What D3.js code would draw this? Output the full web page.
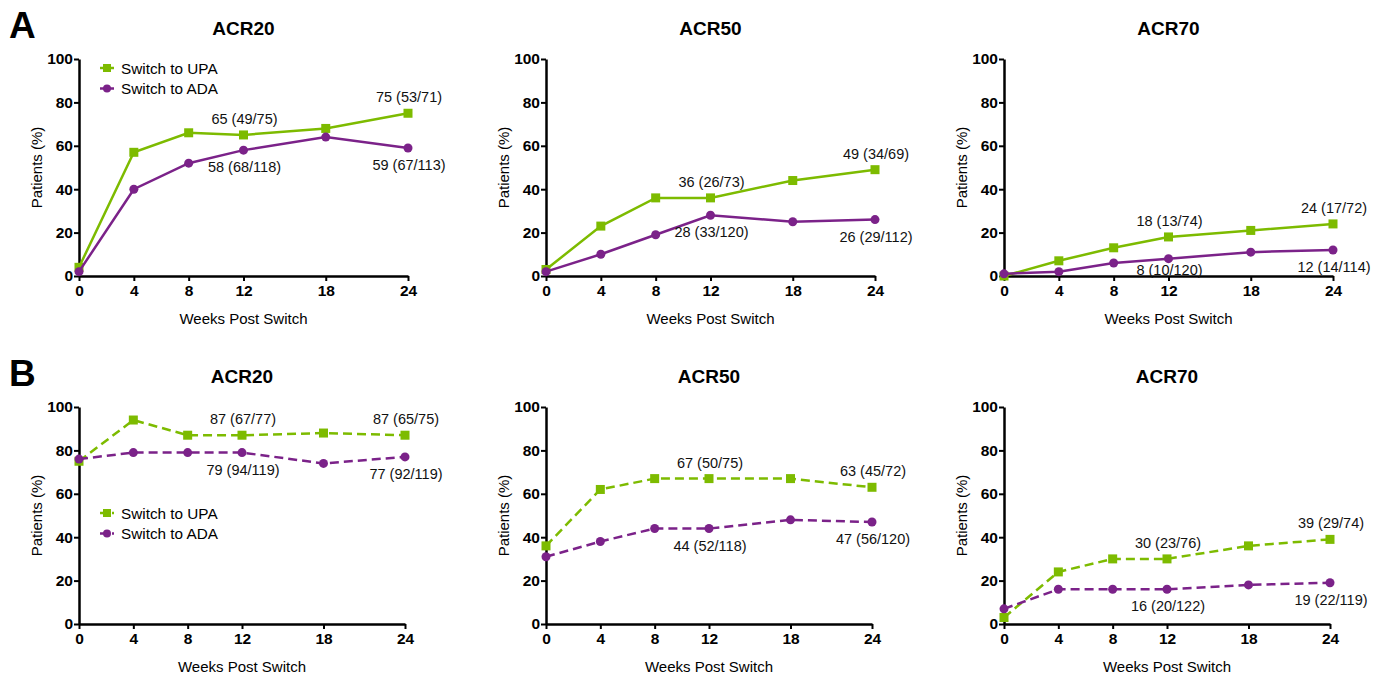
<!DOCTYPE html>
<html>
<head>
<meta charset="utf-8">
<script src="https://cdn.jsdelivr.net/npm/d3@7"></script>
<style>
  body { margin: 0; background: #fff; }
  svg { display: block; font-family: "Liberation Sans", Arial, sans-serif; }
  .tick text { font-weight: bold; font-family: "Liberation Sans", Arial, sans-serif; }
</style>
</head>
<body>
<svg id="chart" width="1384" height="675"></svg>
<script>
// data
const weeks = [0, 4, 8, 12, 18, 24];
const measures = ['ACR20', 'ACR50', 'ACR70'];
const yTicks = [0, 20, 40, 60, 80, 100];
const seriesNames = ['Switch to UPA', 'Switch to ADA'];
const labelWeeks = [12, 24];

// panel A (solid lines)
const upaA = [[4, 57, 66, 65, 68, 75], [3, 23, 36, 36, 44, 49], [0, 7, 13, 18, 21, 24]];
const adaA = [[2, 40, 52, 58, 64, 59], [2, 10, 19, 28, 25, 26], [1, 2, 6, 8, 11, 12]];
const upaLabelsA = [['65 (49/75)', '75 (53/71)'], ['36 (26/73)', '49 (34/69)'], ['18 (13/74)', '24 (17/72)']];
const adaLabelsA = [['58 (68/118)', '59 (67/113)'], ['28 (33/120)', '26 (29/112)'], ['8 (10/120)', '12 (14/114)']];

// panel B (dashed lines)
const upaB = [[75, 94, 87, 87, 88, 87], [36, 62, 67, 67, 67, 63], [3, 24, 30, 30, 36, 39]];
const adaB = [[76, 79, 79, 79, 74, 77], [31, 38, 44, 44, 48, 47], [7, 16, 16, 16, 18, 19]];
const upaLabelsB = [['87 (67/77)', '87 (65/75)'], ['67 (50/75)', '63 (45/72)'], ['30 (23/76)', '39 (29/74)']];
const adaLabelsB = [['79 (94/119)', '77 (92/119)'], ['44 (52/118)', '47 (56/120)'], ['16 (20/122)', '19 (22/119)']];

const green = '#7dbb00';
const purple = '#7b2289';

const svg = d3.select('#chart');

const rows = [
    { letter: 'A', top: 59, bottom: 276, width: 329, dash: null,
      upa: upaA, ada: adaA, upaLab: upaLabelsA, adaLab: adaLabelsA,
      legendY: 68 },
    { letter: 'B', top: 407, bottom: 624, width: 326, dash: '9,5',
      upa: upaB, ada: adaB, upaLab: upaLabelsB, adaLab: adaLabelsB,
      legendY: 513 }
];
const colLeft = [79, 546, 1004];

rows.forEach((row) => {
    svg.append('text')
        .attr('x', 9)
        .attr('y', row.top - 21)
        .attr('font-size', 37)
        .attr('font-weight', 'bold')
        .text(row.letter);

    measures.forEach((m, c) => {
        const x = d3.scaleLinear().domain([0, 24]).range([colLeft[c], colLeft[c] + row.width]);
        const y = d3.scaleLinear().domain([0, 100]).range([row.bottom, row.top]);
        const g = svg.append('g');

        // title
        g.append('text')
            .attr('x', (x(0) + x(24)) / 2)
            .attr('y', row.top - 24)
            .attr('text-anchor', 'middle')
            .attr('font-size', 19)
            .attr('font-weight', 'bold')
            .text(m);

        // axes
        const yAxis = g.append('g')
            .attr('transform', `translate(${x(0)},0)`)
            .call(d3.axisLeft(y).tickValues(yTicks).tickSize(5).tickPadding(1).tickSizeOuter(0));
        const xAxis = g.append('g')
            .attr('transform', `translate(0,${y(0)})`)
            .call(d3.axisBottom(x).tickValues(weeks).tickSize(5).tickPadding(4).tickSizeOuter(0));
        [yAxis, xAxis].forEach((a) => {
            a.attr('font-size', 15.5).attr('font-family', null);
            a.select('.domain').attr('stroke', '#000').attr('stroke-width', 2.5);
            a.selectAll('.tick line').attr('stroke', '#000').attr('stroke-width', 2);
            a.selectAll('.tick text').attr('fill', '#000');
        });

        // axis titles
        g.append('text')
            .attr('x', (x(0) + x(24)) / 2)
            .attr('y', row.bottom + 48)
            .attr('text-anchor', 'middle')
            .attr('font-size', 15)
            .text('Weeks Post Switch');
        g.append('text')
            .attr('transform', `translate(${x(0) - 37},${(row.top + row.bottom) / 2}) rotate(-90)`)
            .attr('text-anchor', 'middle')
            .attr('font-size', 15)
            .text('Patients (%)');

        const line = d3.line().x((d, i) => x(weeks[i])).y((d) => y(d));

        const series = [
            { vals: row.upa[c], color: green, shape: 'square', labels: row.upaLab[c], dy: -11 },
            { vals: row.ada[c], color: purple, shape: 'circle', labels: row.adaLab[c], dy: 22 }
        ];

        series.forEach((s) => {
            g.append('path')
                .datum(s.vals)
                .attr('d', line)
                .attr('fill', 'none')
                .attr('stroke', s.color)
                .attr('stroke-width', 2.5)
                .attr('stroke-dasharray', row.dash);

            if (s.shape === 'square') {
                g.selectAll(null)
                    .data(s.vals)
                    .join('rect')
                    .attr('x', (d, i) => x(weeks[i]) - 4.5)
                    .attr('y', (d) => y(d) - 4.5)
                    .attr('width', 9)
                    .attr('height', 9)
                    .attr('fill', s.color);
            } else {
                g.selectAll(null)
                    .data(s.vals)
                    .join('circle')
                    .attr('cx', (d, i) => x(weeks[i]))
                    .attr('cy', (d) => y(d))
                    .attr('r', 4.5)
                    .attr('fill', s.color);
            }

            labelWeeks.forEach((w, k) => {
                const v = s.vals[weeks.indexOf(w)];
                // keep labels from dropping below the x axis
                const ty = Math.min(y(v) + s.dy, row.bottom - 1);
                g.append('text')
                    .attr('x', x(w) + 1)
                    .attr('y', ty)
                    .attr('text-anchor', 'middle')
                    .attr('font-size', 14.5)
                    .attr('fill', '#111')
                    .text(s.labels[k]);
            });
        });
    });

    // legend
    const lg = svg.append('g').attr('transform', `translate(100,${row.legendY})`);
    seriesNames.forEach((name, i) => {
        const color = i === 0 ? green : purple;
        const item = lg.append('g').attr('transform', `translate(0,${i * 20.5})`);
        item.append('line')
            .attr('x1', 0).attr('x2', 14)
            .attr('stroke', color)
            .attr('stroke-width', 2.5)
            .attr('stroke-dasharray', row.dash ? '4,2' : null);
        if (i === 0) {
            item.append('rect').attr('x', 3).attr('y', -4).attr('width', 8).attr('height', 8).attr('fill', color);
        } else {
            item.append('circle').attr('cx', 7).attr('r', 4).attr('fill', color);
        }
        item.append('text')
            .attr('x', 21)
            .attr('y', 5.5)
            .attr('font-size', 15.3)
            .text(name);
    });
});
</script>
</body>
</html>
